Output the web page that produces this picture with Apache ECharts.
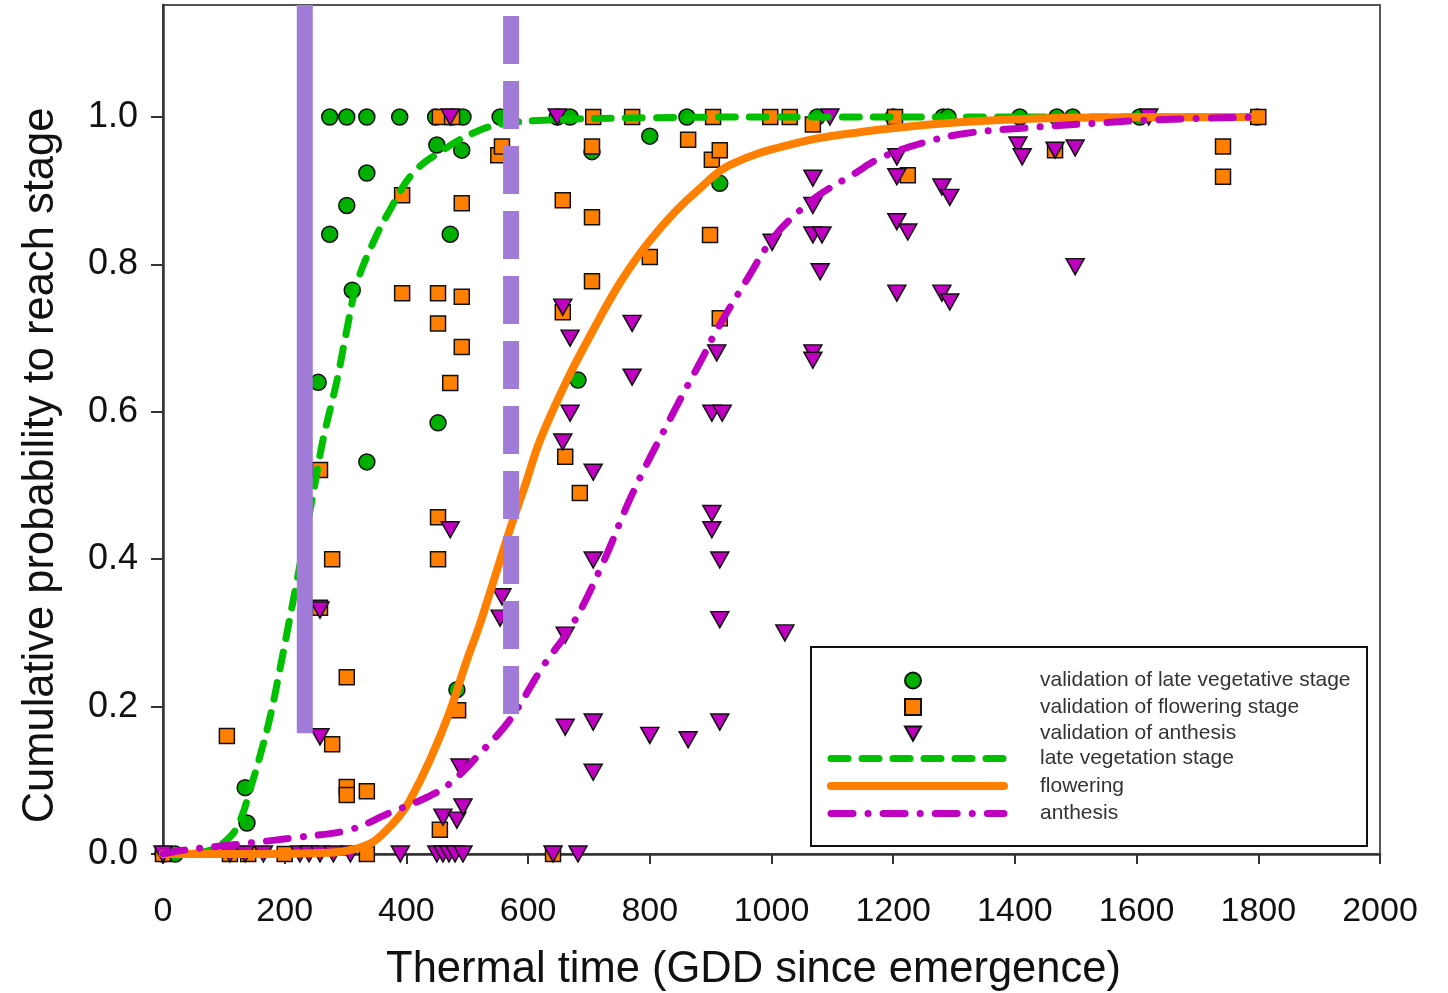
<!DOCTYPE html>
<html>
<head>
<meta charset="utf-8">
<title>Cumulative probability to reach stage</title>
<script src="https://cdn.jsdelivr.net/npm/echarts@6.0.0/dist/echarts.min.js"></script>
<style>
  html, body { margin: 0; padding: 0; background: #fff; }
  #chart { width: 1448px; height: 993px; }
</style>
</head>
<body>
<div id="chart"></div>
<script>
// tick labels
const xTicks = [0, 200, 400, 600, 800, 1000, 1200, 1400, 1600, 1800, 2000];
const yTicks = [0, 0.2, 0.4, 0.6, 0.8, 1.0];

// observed points [GDD, cumulative probability]
const vegObs = [
  [0, 0], [20, 0], [135, 0.09], [138, 0.042], [255, 0.64], [274, 1], [274, 0.841],
  [302, 1], [302, 0.88], [311, 0.765], [335, 1], [335, 0.924], [335, 0.532], [389, 1],
  [448, 1], [452, 0.585], [450, 0.962], [472, 0.841], [475, 1], [491, 0.955], [493, 1],
  [483, 0.223], [554, 1], [648, 1], [669, 1], [682, 0.643], [705, 0.953], [800, 0.974],
  [861, 1], [915, 0.91], [1075, 1], [1200, 1], [1282, 1], [1290, 1], [1408, 1],
  [1469, 1], [1495, 1], [1605, 1], [1798, 1]
];
const flowerObs = [
  [0, 0], [105, 0.16], [110, 0], [140, 0], [200, 0], [258, 0.521], [258, 0.334],
  [278, 0.4], [278, 0.149], [302, 0.24], [302, 0.091], [302, 0.08], [335, 0.085], [335, 0],
  [393, 0.894], [393, 0.761], [452, 0.761], [452, 0.72], [452, 0.457], [452, 0.4],
  [455, 0.033], [455, 1], [485, 0.195], [491, 0.883], [491, 0.756], [491, 0.688],
  [472, 0.639], [475, 1], [551, 0.948], [557, 0.96], [641, 0], [657, 0.887], [657, 0.735],
  [661, 0.539], [685, 0.49], [705, 0.96], [705, 0.864], [705, 0.777], [707, 1], [771, 1],
  [800, 0.81], [863, 0.969], [899, 0.84], [902, 0.942], [904, 1], [915, 0.955], [915, 0.727],
  [998, 1], [1030, 1], [1068, 0.99], [1203, 1], [1224, 0.921], [1466, 0.955],
  [1742, 0.96], [1742, 0.919], [1800, 1]
];
const anthObs = [
  [0, 0], [110, 0], [135, 0], [165, 0], [225, 0], [240, 0], [258, 0.331], [258, 0.159],
  [258, 0], [280, 0], [308, 0], [390, 0], [450, 0], [460, 0.05], [460, 0], [470, 0],
  [472, 0.44], [472, 1], [480, 0], [483, 0.046], [488, 0.118], [493, 0.064], [493, 0],
  [557, 0.349], [554, 0.32], [641, 0], [648, 1], [657, 0.742], [657, 0.559], [661, 0.297],
  [661, 0.172], [669, 0.7], [669, 0.598], [682, 0], [707, 0.399], [707, 0.179], [707, 0.111],
  [707, 0.518], [771, 0.72], [771, 0.647], [800, 0.161], [863, 0.155], [902, 0.598],
  [902, 0.462], [902, 0.44], [910, 0.68], [915, 0.399], [915, 0.318], [915, 0.179],
  [919, 0.598], [1001, 0.83], [1022, 0.3], [1068, 0.917], [1068, 0.88], [1068, 0.84],
  [1068, 0.68], [1068, 0.67], [1080, 0.79], [1083, 0.84], [1096, 1], [1206, 0.946],
  [1206, 0.919], [1206, 0.858], [1206, 0.761], [1224, 0.844], [1280, 0.905], [1280, 0.761],
  [1293, 0.891], [1293, 0.749], [1405, 0.962], [1412, 0.946], [1466, 0.955], [1499, 0.958],
  [1499, 0.797], [1620, 1]
];

// fitted curves
const vegCurve = [
  [0, 0], [50, 0.001], [80, 0.006], [110, 0.023], [127, 0.046], [143, 0.087], [159, 0.132],
  [176, 0.186], [192, 0.25], [206, 0.31], [220, 0.37], [247, 0.49], [263, 0.562],
  [286, 0.643], [302, 0.711], [319, 0.775], [345, 0.829], [373, 0.874], [411, 0.924],
  [460, 0.955], [509, 0.978], [554, 0.99], [636, 0.996], [800, 0.999], [1000, 1], [1800, 1]
];
const flowerCurve = [
  [0, 0], [150, 0], [250, 0.001], [300, 0.004], [340, 0.014], [362, 0.028], [389, 0.052],
  [406, 0.073], [439, 0.128], [472, 0.195], [499, 0.262], [520, 0.31], [545, 0.375],
  [570, 0.44], [595, 0.5], [620, 0.562], [664, 0.643], [707, 0.711], [740, 0.76],
  [767, 0.795], [800, 0.832], [840, 0.87], [878, 0.9], [932, 0.935], [1042, 0.965],
  [1150, 0.98], [1260, 0.99], [1375, 0.996], [1500, 0.999], [1800, 1]
];
const anthCurve = [
  [0, 0], [33, 0.005], [143, 0.015], [225, 0.023], [307, 0.033], [373, 0.056], [434, 0.077],
  [472, 0.096], [526, 0.141], [570, 0.182], [624, 0.254], [674, 0.313], [723, 0.395],
  [772, 0.49], [838, 0.598], [887, 0.674], [910, 0.711], [960, 0.78], [1002, 0.835],
  [1045, 0.872], [1085, 0.898], [1134, 0.922], [1178, 0.944], [1249, 0.965], [1321, 0.978],
  [1430, 0.986], [1540, 0.992], [1622, 0.996], [1800, 1]
];

// vertical purple markers
const markSolid = [[233, 0.164], [233, 1.152]];
const markDashed = [[572, 0.19], [572, 1.152]];

const FONT = 'Liberation Sans, Arial, sans-serif';
const hideSymbol = { opacity: 0 };
let myChart = echarts.init(document.getElementById('chart'));
let option = {
  animation: false,
  backgroundColor: '#fff',
  grid: {
    left: 163, right: 68, top: 5, bottom: 139,
    outerBoundsMode: 'none', containLabel: false,
    show: true, borderColor: '#555', borderWidth: 2
  },
  xAxis: {
    type: 'value', min: 0, max: 2000, interval: 200,
    name: 'Thermal time (GDD since emergence)',
    nameLocation: 'middle', nameGap: 94,
    nameTextStyle: { fontSize: 43.5, color: '#111', fontFamily: FONT, padding: [0, 36, 0, 0] },
    axisLine: { lineStyle: { color: '#333', width: 2.5 } },
    axisTick: { length: 10, lineStyle: { color: '#333', width: 2 } },
    axisLabel: {
      fontSize: 34, color: '#111', fontFamily: FONT, margin: 41,
      customValues: xTicks,
      formatter: function (v) { return String(v); }
    },
    splitLine: { show: false }
  },
  yAxis: {
    type: 'value', min: 0, max: 1.152, interval: 0.2,
    name: 'Cumulative probability to reach stage',
    nameLocation: 'middle', nameGap: 100,
    nameTextStyle: { fontSize: 43.5, color: '#111', fontFamily: FONT, padding: [0, 72, 0, 0] },
    axisLine: { lineStyle: { color: '#333', width: 2.5 } },
    axisTick: { length: 12, lineStyle: { color: '#333', width: 2 }, customValues: yTicks },
    axisLabel: {
      fontSize: 36, color: '#111', fontFamily: FONT, margin: 25,
      customValues: yTicks,
      formatter: function (v) { return v.toFixed(1); }
    },
    splitLine: { show: false }
  },
  legend: [
    {
      left: 904, top: 670, orient: 'vertical', padding: 0,
      itemWidth: 16, itemHeight: 16, itemGap: 5.5, selectedMode: false, z: 5,
      textStyle: { fontSize: 21, color: '#333', fontFamily: FONT, lineHeight: 16, padding: [0, 0, 0, 114] },
      data: [
        'validation of late vegetative stage',
        'validation of flowering stage',
        { name: 'validation of anthesis', icon: 'path://M0,0 L18,0 L9,16 Z' }
      ]
    },
    {
      left: 827, top: 748, orient: 'vertical', padding: 0,
      itemWidth: 173, itemHeight: 16, itemGap: 6.5, selectedMode: false, z: 5,
      textStyle: { fontSize: 21, color: '#333', fontFamily: FONT, lineHeight: 16, padding: [0, 0, 0, 31] },
      lineStyle: { width: 'inherit', cap: 'inherit' },
      data: [
        { name: 'late vegetation stage', itemStyle: hideSymbol },
        { name: 'flowering', itemStyle: hideSymbol },
        { name: 'anthesis', itemStyle: hideSymbol }
      ]
    }
  ],
  graphic: [{
    type: 'rect', left: 810, top: 646, z: 3,
    shape: { width: 556, height: 199 },
    style: { fill: '#fff', stroke: '#111', lineWidth: 2 }
  }],
  series: [
    {
      name: 'validation of late vegetative stage', type: 'scatter', data: vegObs,
      symbol: 'circle', symbolSize: 16, z: 2,
      itemStyle: { color: '#00b000', borderColor: '#111', borderWidth: 1.5, opacity: 1 }
    },
    {
      name: 'validation of flowering stage', type: 'scatter', data: flowerObs,
      symbol: 'rect', symbolSize: 15, z: 2,
      itemStyle: { color: '#ff8000', borderColor: '#111', borderWidth: 1.5, opacity: 1 }
    },
    {
      name: 'validation of anthesis', type: 'scatter', data: anthObs,
      symbol: 'triangle', symbolRotate: 180, symbolSize: [18, 16], z: 2,
      itemStyle: { color: '#c000c0', borderColor: '#111', borderWidth: 1.5, opacity: 1 }
    },
    {
      name: 'late vegetation stage', type: 'line', data: vegCurve,
      smooth: 0.4, symbol: 'none', z: 3,
      lineStyle: { color: '#00c000', width: 7, type: [17, 14], cap: 'round' },
      itemStyle: { color: '#00c000' }
    },
    {
      name: 'flowering', type: 'line', data: flowerCurve,
      smooth: 0.4, symbol: 'none', z: 3,
      lineStyle: { color: '#ff8000', width: 8, cap: 'round' },
      itemStyle: { color: '#ff8000' }
    },
    {
      name: 'anthesis', type: 'line', data: anthCurve,
      smooth: 0.4, symbol: 'none', z: 3,
      lineStyle: { color: '#c000c0', width: 7, type: [22, 15, 0.1, 15], cap: 'round' },
      itemStyle: { color: '#c000c0' }
    },
    {
      name: 'cutoff1', type: 'line', data: markSolid, symbol: 'none', silent: true, z: 4,
      lineStyle: { color: '#a07cd8', width: 16, cap: 'butt' }
    },
    {
      name: 'cutoff2', type: 'line', data: markDashed, symbol: 'none', silent: true, z: 4,
      lineStyle: { color: '#a07cd8', width: 16, type: [48, 17], cap: 'butt' }
    }
  ]
};
myChart.setOption(option);
window.addEventListener('resize', function () { myChart.resize() })
</script>
</body>
</html>
